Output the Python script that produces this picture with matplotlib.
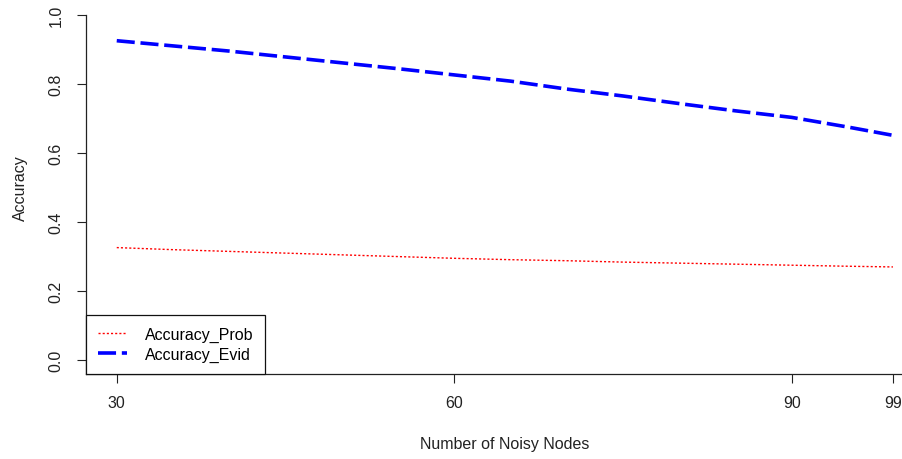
import matplotlib
matplotlib.use("Agg")
import matplotlib.pyplot as plt

plt.rcParams['font.family'] = ['Liberation Sans', 'DejaVu Sans']

# noisy node counts and accuracies
noisy_nodes = [30, 35, 40, 45, 50, 55, 60, 65, 70, 75, 80, 85, 90, 95, 99]
acc_prob = [0.326, 0.320, 0.315, 0.310, 0.305, 0.300, 0.295, 0.291,
            0.288, 0.284, 0.281, 0.278, 0.275, 0.272, 0.270]
acc_evid = [0.925, 0.910, 0.895, 0.878, 0.861, 0.844, 0.826, 0.808,
            0.785, 0.765, 0.743, 0.722, 0.703, 0.675, 0.651]
x_ticks = [30, 60, 90, 99]
y_ticks = [0.0, 0.2, 0.4, 0.6, 0.8, 1.0]

W, H = 903, 460
fig = plt.figure(figsize=(W / 100, H / 100), dpi=100)
# plot region runs a little past the right edge, like the cropped original
left, right, bottom, top = 85.7, 924.0, 375.0, 2.0
ax = fig.add_axes([left / W, (H - bottom) / H, (right - left) / W, (bottom - top) / H])

ax.plot(noisy_nodes, acc_prob, color='#ff0000', lw=1.0, dashes=(1.5, 1.5),
        label='Accuracy_Prob')
ax.plot(noisy_nodes, acc_evid, color='#0000ff', lw=2.6, dashes=(5, 1.6),
        label='Accuracy_Evid')

xr = noisy_nodes[-1] - noisy_nodes[0]
ax.set_xlim(noisy_nodes[0] - 0.04 * xr, noisy_nodes[-1] + 0.04 * xr)
ax.set_ylim(-0.04, 1.04)

ax.spines['top'].set_visible(False)
ax.spines['right'].set_visible(False)
ax.spines['left'].set_bounds(-0.04, 1.0)
for s in ('left', 'bottom'):
    ax.spines[s].set_linewidth(0.9)
    ax.spines[s].set_color('#222222')

ax.set_xticks(x_ticks)
ax.set_xticklabels([str(t) for t in x_ticks])
ax.set_yticks(y_ticks)
ax.set_yticklabels(['%.1f' % t for t in y_ticks], rotation=90, va='center')
ax.tick_params(axis='x', length=6.8, width=0.8, pad=8.3, labelsize=11.5,
               color='#222222', labelcolor='#222222')
ax.tick_params(axis='y', length=6.8, width=0.8, pad=9.0, labelsize=11.5,
               color='#222222', labelcolor='#222222')

ax.set_xlabel('Number of Noisy Nodes', fontsize=11.5, color='#222222')
ax.xaxis.set_label_coords(0.4996, -0.166)
ax.set_ylabel('Accuracy', fontsize=11.5, color='#222222')
ax.yaxis.set_label_coords(-0.0684, 0.5)

leg = ax.legend(loc='lower left', bbox_to_anchor=(0, 0), borderaxespad=0,
                fancybox=False, framealpha=1, edgecolor='#111111',
                fontsize=11.5, handlelength=1.85, handletextpad=1.1,
                borderpad=0.75, labelspacing=0.3)
leg.get_frame().set_linewidth(0.9)

fig.savefig('out.png', dpi=100)
